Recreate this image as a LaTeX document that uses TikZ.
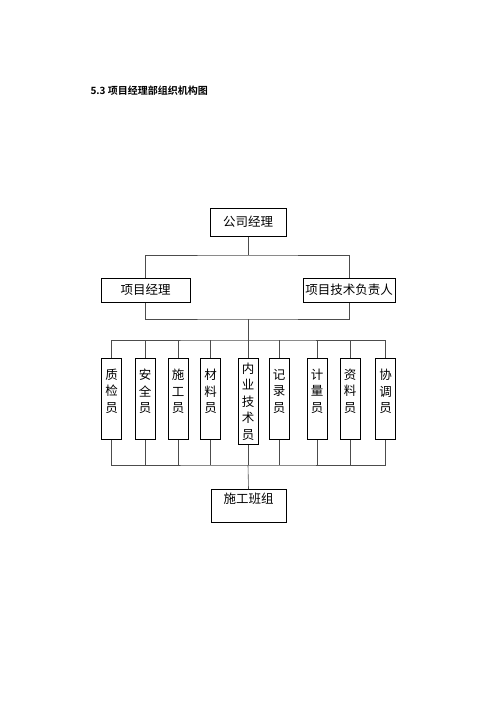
\documentclass[tikz,border=0pt]{standalone}
\usepackage{fontspec}
\newfontfamily\cjk{Noto Sans CJK SC}
\newfontfamily\cjkbold{Noto Sans CJK SC Bold}
\usetikzlibrary{calc,positioning}

\begin{document}
\begin{tikzpicture}
          [ x=1pt, y=-1pt,
            every node/.style={font=\cjk\fontsize{12.5}{16.5}\selectfont},
            element/.style={
              rectangle,
              draw,
              line width=1pt,
              inner sep=0pt},
            post/.style={
              element,
              anchor=north,
              minimum width=20pt,
              text width=14pt,
              align=center},
            line/.style={
              draw,
              gray!60!black,
              line width=.6pt},
          ]
          \useasboundingbox (0,0) rectangle (500,707);

          \node (title) [anchor=west, font=\cjkbold\fontsize{10}{12}\selectfont] at (87,91) {5.3 项目经理部组织机构图};

          \node (gsjl) [element, minimum width=76pt, minimum height=28pt] at (248,222) {公司经理};
          \node (xmjl) [element, minimum width=89pt, minimum height=24pt] at (145.5,290) {项目经理};
          \node (jsfz) [element, minimum width=92pt, minimum height=24pt] at (349,290) {项目技术负责人};

          \foreach \name/\x/\h/\txt in {zj/111.5/81/质\\检\\员\\\mbox{},
                                         aq/145/81/安\\全\\员\\\mbox{},
                                         sg/178/81/施\\工\\员\\\mbox{},
                                         cl/210.5/81/材\\料\\员\\\mbox{},
                                         nj/248/86/内\\业\\技\\术\\员,
                                         jl/279/81/记\\录\\员\\\mbox{},
                                         jlg/317/81/计\\量\\员\\\mbox{},
                                         zl/350/81/资\\料\\员\\\mbox{},
                                         xt/385.5/81/协\\调\\员\\\mbox{}}
            \node (\name) [post, minimum height=\h pt] at (\x,358) {\txt};

          \node (bz) [element, anchor=north, minimum width=75pt, minimum height=33pt, align=center] at (248.5,489) {施工班组\\\mbox{}};

          \coordinate (bus1) at (248,255);
          \coordinate (bus2) at (248,319);
          \coordinate (bus3) at (248,340);
          \coordinate (bus4) at (248,465);

          \draw[line] (gsjl.south) -- (bus1);
          \draw[line] (xmjl.north) |- (bus1) -| (jsfz.north);
          \draw[line] (xmjl.south) |- (bus2) -| (jsfz.south);
          \draw[line] (bus2) -- (bus3);
          \draw[line] (zj.north) |- (bus3) -| (xt.north);
          \draw[line] (zj.south) |- (bus4) -| (xt.south);
          \foreach \name in {aq,sg,cl,nj,jl,jlg,zl} {
            \draw[line] (\name.north) -- (\name.north |- bus3);
            \draw[line] (\name.south) -- (\name.south |- bus4);
          }
          \draw[line] (bus4) -- (bz.north);

        \end{tikzpicture}
\end{document}
